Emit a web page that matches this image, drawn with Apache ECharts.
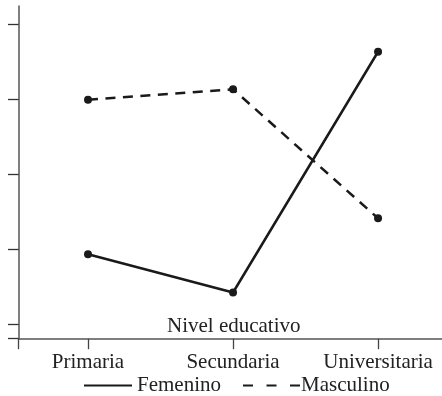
<!DOCTYPE html>
<html>
<head>
<meta charset="utf-8">
<script src="https://cdn.jsdelivr.net/npm/echarts@6/dist/echarts.min.js"></script>
<style>html,body{margin:0;padding:0;background:#fff;}#c{width:442px;height:396px;}</style>
</head>
<body>
<div id="c"></div>
<script>
var categories = ['Primaria', 'Secundaria', 'Universitaria'];
var femenino = [1.93, 1.42, 4.63];
var masculino = [3.99, 4.13, 2.41];
var yTicks = [1, 2, 3, 4, 5];
var axisName = 'Nivel educativo';
var seriesNames = ['Femenino', 'Masculino'];

var FONT = 'Liberation Serif';
var xMin = -0.478, xMax = 2.441;
var yMin = 0.804, yMax = 5.24;

function pairs(arr) { return arr.map(function (v, i) { return [i, v]; }); }
var catIdx = categories.map(function (c, i) { return i; });

var legendText = { fontFamily: FONT, fontSize: 21, color: '#222' };

var chart = echarts.init(document.getElementById('c'), null, { renderer: 'canvas' });
chart.setOption({
  animation: false,
  backgroundColor: '#fff',
  title: {
    text: axisName, left: 167, top: 316, padding: 0,
    textStyle: { fontFamily: FONT, fontSize: 21, fontWeight: 'normal', color: '#222' }
  },
  grid: { left: 18.7, right: 0, top: 6, bottom: 57.3, containLabel: false },
  xAxis: {
    type: 'value', min: xMin, max: xMax,
    splitLine: { show: false },
    axisLine: { show: true, onZero: false, lineStyle: { color: '#555', width: 1.5 } },
    axisTick: { show: true, inside: false, length: 10.5, customValues: [xMin].concat(catIdx), lineStyle: { color: '#444', width: 1.3 } },
    axisLabel: { show: true, margin: 13, customValues: catIdx, fontFamily: FONT, fontSize: 21, color: '#222',
      formatter: function (v) { return categories[Math.round(v)] || ''; } }
  },
  yAxis: {
    type: 'value', min: yMin, max: yMax,
    splitLine: { show: false },
    axisLine: { show: true, onZero: false, lineStyle: { color: '#555', width: 1.5 } },
    axisTick: { show: true, inside: false, length: 10.7, customValues: [yMin].concat(yTicks), lineStyle: { color: '#333', width: 1.3 } },
    axisLabel: { show: false }
  },
  legend: [
    {
      top: 375, left: 83, padding: 0,
      itemWidth: 48, itemHeight: 12,
      textStyle: legendText,
      itemStyle: { opacity: 0 },
      data: [seriesNames[0]]
    },
    {
      top: 375, left: 242, padding: 0,
      itemWidth: 57, itemHeight: 12,
      textStyle: Object.assign({}, legendText, { padding: [0, 0, 0, -4] }),
      itemStyle: { opacity: 0 },
      lineStyle: { type: [10, 13.5] },
      data: [seriesNames[1]]
    }
  ],
  series: [
    {
      name: seriesNames[0], type: 'line', data: pairs(femenino),
      symbol: 'circle', symbolSize: 8,
      lineStyle: { color: '#1a1a1a', width: 2.5, type: 'solid' },
      itemStyle: { color: '#1a1a1a' }
    },
    {
      name: seriesNames[1], type: 'line', data: pairs(masculino),
      symbol: 'circle', symbolSize: 8,
      lineStyle: { color: '#1a1a1a', width: 2.5, type: [10, 7.5] },
      itemStyle: { color: '#1a1a1a' }
    }
  ]
});
</script>
</body>
</html>
